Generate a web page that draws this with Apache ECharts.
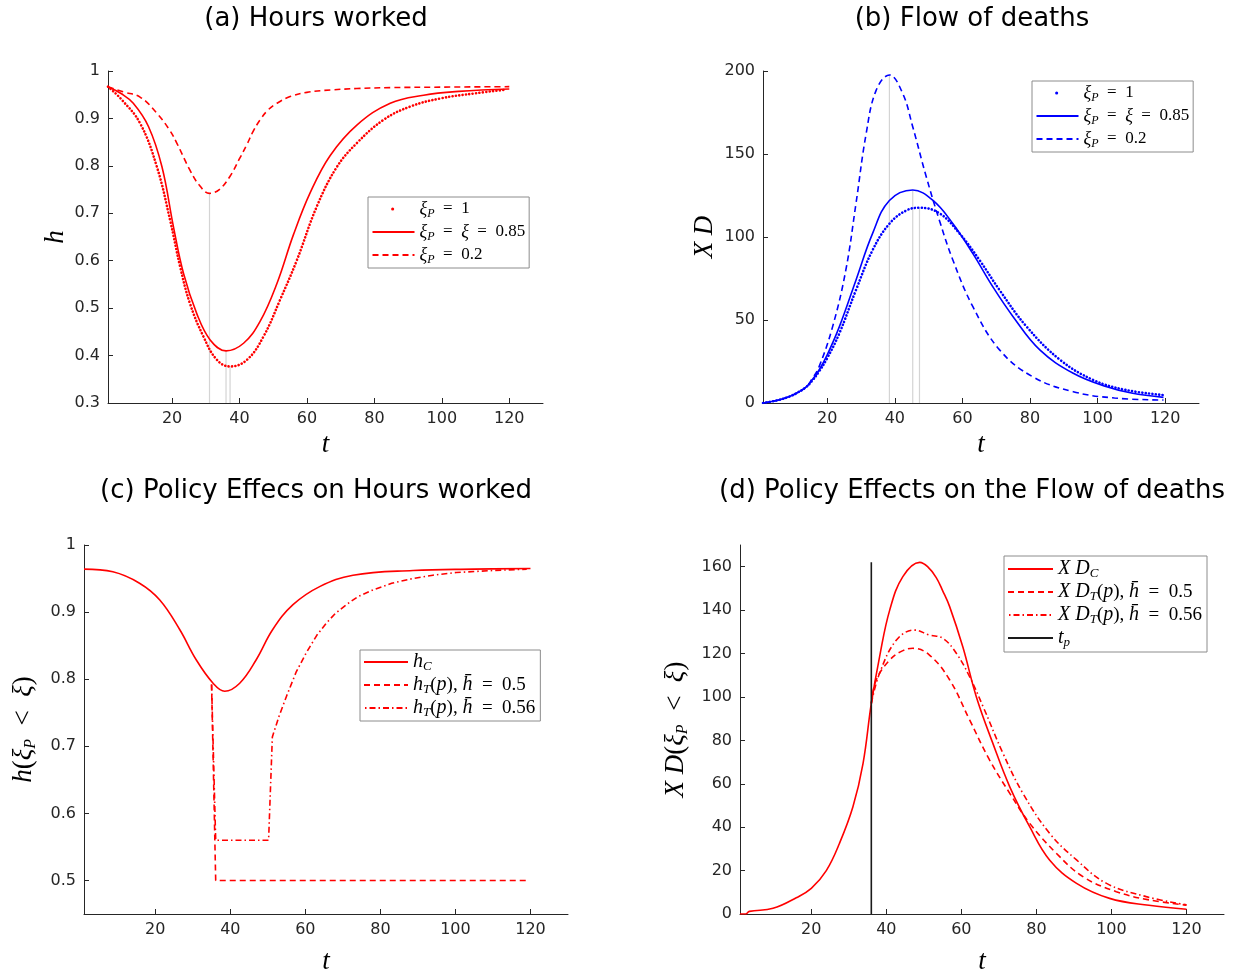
<!DOCTYPE html>
<html><head><meta charset="utf-8">
<script src="https://cdn.jsdelivr.net/npm/echarts@6/dist/echarts.min.js"></script>
<style>html,body{margin:0;padding:0;background:#fff}#c{width:1247px;height:977px}</style>
</head><body><div id="c"></div>
<script>
// ---------- (a) Hours worked ----------
const aDotT = [1, 5, 10.5, 15.5, 19.4, 22.4, 25.3, 29.3, 33.3, 37.2, 42.2, 47.1, 52, 57, 62.9, 68.9, 74.8, 82.7, 90.6, 99.5, 110, 118.3];
const aDotV = [0.967, 0.940, 0.890, 0.798, 0.686, 0.587, 0.510, 0.440, 0.391, 0.377, 0.391, 0.440, 0.517, 0.601, 0.714, 0.798, 0.848, 0.897, 0.925, 0.942, 0.953, 0.960];
const aSolT = [1, 5, 8.5, 13, 17, 20.4, 23.4, 27.3, 31.3, 36, 41.2, 46.1, 51.1, 56, 61, 66.9, 74.8, 84.7, 94.6, 105, 120];
const aSolV = [0.967, 0.952, 0.932, 0.883, 0.798, 0.672, 0.573, 0.489, 0.433, 0.410, 0.426, 0.472, 0.552, 0.655, 0.744, 0.822, 0.886, 0.932, 0.949, 0.957, 0.962];
const aDashT = [1, 5.5, 10.5, 15.5, 19.4, 21.4, 25.3, 28, 31.1, 34, 37.2, 40, 42.2, 44, 46.1, 48.5, 51.1, 55, 60, 67, 74.8, 85, 100, 120];
const aDashV = [0.967, 0.956, 0.945, 0.911, 0.874, 0.848, 0.791, 0.760, 0.742, 0.750, 0.778, 0.815, 0.845, 0.872, 0.897, 0.918, 0.932, 0.946, 0.955, 0.960, 0.963, 0.965, 0.966, 0.967];
const aPeakT = [31.1, 36, 37.2];
const aPeakV = [0.742, 0.410, 0.377];
const aYTicks = [0.3, 0.4, 0.5, 0.6, 0.7, 0.8, 0.9, 1];

// ---------- (b) Flow of deaths ----------
const bDotT = [1, 5, 8.7, 11, 13.7, 15.5, 17.6, 20, 23.6, 28.5, 33.4, 38.4, 43.4, 47.3, 53.2, 59.2, 65.1, 71, 79, 88.9, 98.7, 108, 119.5];
const bDotV = [0, 1.5, 3.8, 6, 9.5, 13.3, 19, 27, 42, 68, 92, 108, 116, 117.6, 114.3, 102, 86, 68, 46, 26, 13.9, 8, 4.8];
const bSolT = [1, 5, 8.7, 11, 13.7, 15.5, 17.6, 20, 23.6, 28.5, 33.4, 38.4, 45.3, 51.3, 57.2, 63.1, 69, 75, 82.9, 92.8, 102.7, 110, 119.5];
const bSolV = [0, 1.5, 3.8, 6, 9.5, 13.8, 19.9, 29, 46, 74, 102, 122, 128.3, 122, 108, 90, 70, 52, 32, 17.9, 9.8, 6, 3.4];
const bDashT = [1, 5, 8.7, 11, 13.7, 15.5, 17.6, 21.6, 25.5, 28.5, 31.5, 34.5, 38.4, 42.3, 45.3, 49.3, 53.2, 57.2, 63.1, 71, 80.8, 92.8, 105, 119.5];
const bDashV = [0, 1.5, 3.8, 6, 9.5, 14.5, 21.9, 46, 80, 120, 162, 188.5, 197.6, 186.6, 166.4, 136.3, 110, 86, 58, 32, 15.8, 6.8, 3, 1.8];
const bPeakT = [38.4, 45.3, 47.3];
const bPeakV = [197.6, 128.3, 117.6];
const bYTicks = [0, 50, 100, 150, 200];

// ---------- (c) Policy effects on hours worked ----------
const cSolT = [1, 8.7, 15.8, 21.2, 26.5, 30.9, 35.4, 38.5, 42.5, 46.9, 51.3, 56.7, 63.8, 72.7, 88.7, 105, 120];
const cSolV = [0.964, 0.960, 0.943, 0.918, 0.874, 0.829, 0.794, 0.782, 0.794, 0.829, 0.874, 0.911, 0.938, 0.955, 0.962, 0.964, 0.965];
const cDashT = [35, 36.1, 119];
const cDashV = [0.792, 0.5, 0.5];
const cDDT = [35, 36.1, 50.2, 51.2, 53, 55, 57.5, 60.2, 63, 65.5, 68, 70.9, 74, 78, 83, 88.7, 94, 100.2, 110, 119];
const cDDV = [0.792, 0.56, 0.56, 0.714, 0.745, 0.775, 0.810, 0.839, 0.865, 0.883, 0.898, 0.911, 0.923, 0.933, 0.943, 0.950, 0.955, 0.959, 0.962, 0.964];
const cYTicks = [0.5, 0.6, 0.7, 0.8, 0.9, 1];

// ---------- (d) Policy effects on the flow of deaths ----------
const dSolT = [1, 2.5, 3.5, 9.8, 16, 20, 24, 27.5, 31.1, 33.8, 36, 38.2, 40.9, 44.4, 48.9, 51, 53.3, 55, 56.9, 60.4, 64, 68.4, 72.9, 78.2, 83.5, 90.7, 99.5, 110, 120];
const dSolV = [0, 0, 1.2, 2.6, 7.5, 11.8, 20, 32.5, 49.4, 69.4, 97, 118.5, 140, 155.4, 162, 160, 155, 149, 141.5, 123, 100, 78.6, 58.6, 40.2, 24.9, 14.1, 7.2, 4, 2.2];
const dDashT = [36, 37.3, 40.9, 44, 47.1, 51.5, 56.9, 62.2, 67.5, 72.9, 78.2, 85.3, 92.4, 101.3, 110, 120];
const dDashV = [97, 107.8, 117, 121, 122.4, 119.3, 107.8, 89.4, 71, 55.6, 41.8, 28, 17.2, 10.3, 6.5, 4.1];
const dDDT = [36, 38.2, 42.7, 47.5, 51.5, 55.1, 58.7, 62.2, 65.8, 71.1, 76.4, 83.5, 90.7, 98.7, 109.3, 120];
const dDDV = [97, 110.9, 126.2, 130.8, 128.5, 127, 120, 109.3, 95.5, 74, 55.6, 37.2, 24.9, 14.1, 8, 4.2];
const tpT = 36;
const tpV = [0, 162];
const dYTicks = [0, 20, 40, 60, 80, 100, 120, 140, 160];

const xTicks = [20, 40, 60, 80, 100, 120];

// ---------- helpers ----------
const zip = (t, v) => t.map((x, i) => [x, v[i]]);
const RED = '#ff0000', BLUE = '#0000ff';
const AX = '#262626';
const SANS = 'DejaVu Sans';
const SERIF = 'Liberation Serif';
const DOT = {type: [0.1, 3.3], width: 2.6, cap: 'round'};
const DASH = {type: [6, 4], width: 1.6};
const DASHDOT = {type: [6, 3, 1.5, 3], width: 1.6};
const SOLID = {type: 'solid', width: 1.6};

function line(name, gi, t, v, color, ls, smooth) {
  return {type: 'line', name, xAxisIndex: gi, yAxisIndex: gi, data: zip(t, v),
    symbol: 'none', smooth: smooth === false ? false : 0.4,
    lineStyle: Object.assign({color}, ls), itemStyle: {color}, z: 3, silent: true};
}
function vline(gi, t, y0, y1, color, w, z) {
  return {type: 'line', xAxisIndex: gi, yAxisIndex: gi, data: [[t, y0], [t, y1]],
    symbol: 'none', lineStyle: {color, width: w}, z, silent: true};
}
const nameRich = {
  i: {fontFamily: SERIF, fontStyle: 'italic', fontSize: 27, color: '#000', lineHeight: 30},
  n: {fontFamily: SERIF, fontSize: 27, color: '#000', lineHeight: 30},
  s: {fontFamily: SERIF, fontStyle: 'italic', fontSize: 16, color: '#000', verticalAlign: 'bottom', lineHeight: 14}
};
function fmt(d) { return v => (+v.toFixed(d)).toString(); }
function xAxis(gi, gap) {
  return {type: 'value', gridIndex: gi, min: 1, max: 130,
    axisLine: {show: true, onZero: false, lineStyle: {color: AX, width: 1}},
    axisTick: {show: true, inside: true, length: 5, customValues: xTicks, lineStyle: {color: AX}},
    axisLabel: {customValues: xTicks, color: AX, fontSize: 16, fontFamily: SANS, margin: 8},
    splitLine: {show: false},
    name: '{i|t}', nameLocation: 'middle', nameGap: gap, nameTextStyle: {rich: nameRich}};
}
function yAxis(gi, min, max, ticks, dec, name, gap) {
  return {type: 'value', gridIndex: gi, min, max,
    axisLine: {show: true, onZero: false, lineStyle: {color: AX, width: 1}},
    axisTick: {show: true, inside: true, length: 5, customValues: ticks, lineStyle: {color: AX}},
    axisLabel: {customValues: ticks, color: AX, fontSize: 16, fontFamily: SANS, margin: 8, formatter: fmt(dec)},
    splitLine: {show: false},
    name, nameLocation: 'middle', nameRotate: 90, nameGap: gap, nameTextStyle: {rich: nameRich}};
}

function legRich(fs) {
  return {
    i: {fontFamily: SERIF, fontStyle: 'italic', fontSize: fs + 1, color: '#000', lineHeight: 22},
    n: {fontFamily: SERIF, fontSize: fs, color: '#000', lineHeight: 22},
    s: {fontFamily: SERIF, fontStyle: 'italic', fontSize: Math.round(fs * 0.68), color: '#000', verticalAlign: 'bottom', lineHeight: 11}
  };
}
const legLabels = {
  a1: '{i|ξ}{s|P}{n|  =  1}', a2: '{i|ξ}{s|P}{n|  =  }{i|ξ}{n|  =  0.85}', a3: '{i|ξ}{s|P}{n|  =  0.2}',
  b1: '{i|ξ}{s|P}{n|  =  1}', b2: '{i|ξ}{s|P}{n|  =  }{i|ξ}{n|  =  0.85}', b3: '{i|ξ}{s|P}{n|  =  0.2}',
  c1: '{i|h}{s|C}', c2: '{i|h}{s|T}{n|(}{i|p}{n|), }{i|h̄}{n|  =  0.5}', c3: '{i|h}{s|T}{n|(}{i|p}{n|), }{i|h̄}{n|  =  0.56}',
  d1: '{i|X D}{s|C}', d2: '{i|X D}{s|T}{n|(}{i|p}{n|), }{i|h̄}{n|  =  0.5}', d3: '{i|X D}{s|T}{n|(}{i|p}{n|), }{i|h̄}{n|  =  0.56}', d4: '{i|t}{s|p}'
};
const dotLegend = {type: [0.1, 1000], dashOffset: 980, width: 3, cap: 'round'};
function legend(names, left, top, w, pad, fs, lh) {
  return {orient: 'vertical', left, top, itemWidth: w, itemHeight: 10, itemGap: 1,
    padding: pad, borderColor: '#8c8c8c', borderWidth: 1, backgroundColor: '#fff',
    itemStyle: {opacity: 0},
    selectedMode: false, data: names, formatter: n => legLabels[n],
    textStyle: {rich: legRich(fs), lineHeight: lh}};
}

const titleStyle = {fontFamily: SANS, fontSize: 26, fontWeight: 'normal', color: '#000'};
const option = {
  animation: false,
  backgroundColor: '#fff',
  title: [
    {text: '(a) Hours worked', left: 316, top: 6, textAlign: 'center', padding: 0, textStyle: titleStyle},
    {text: '(b) Flow of deaths', left: 972, top: 6, textAlign: 'center', padding: 0, textStyle: titleStyle},
    {text: '(c) Policy Effecs on Hours worked', left: 316, top: 478, textAlign: 'center', padding: 0, textStyle: titleStyle},
    {text: '(d) Policy Effects on the Flow of deaths', left: 972, top: 478, textAlign: 'center', padding: 0, textStyle: titleStyle}
  ],
  grid: [
    {left: 108, top: 71, width: 435, height: 332, outerBoundsMode: 'none'},
    {left: 763, top: 71, width: 436, height: 332, outerBoundsMode: 'none'},
    {left: 84, top: 545, width: 484, height: 369, outerBoundsMode: 'none'},
    {left: 740, top: 545, width: 484, height: 369, outerBoundsMode: 'none'}
  ],
  xAxis: [xAxis(0, 27), xAxis(1, 27), xAxis(2, 33), xAxis(3, 33)],
  yAxis: [
    yAxis(0, 0.3, 1, aYTicks, 1, '{i|h}', 37),
    yAxis(1, 0, 200, bYTicks, 0, '{i|X D}', 43),
    yAxis(2, 0.45, 1, cYTicks, 1, '{i|h}{n|(}{i|ξ}{s|P}{n|  <  }{i|ξ}{n|)}', 45),
    yAxis(3, 0, 170, dYTicks, 0, '{i|X D}{n|(}{i|ξ}{s|P}{n|  <  }{i|ξ}{n|)}', 49)
  ],
  legend: [
    legend([{name: 'a1', lineStyle: dotLegend}, 'a2', 'a3'], 368, 197, 42, [1, 4, 2, 3], 17, 21),
    legend([{name: 'b1', lineStyle: dotLegend}, 'b2', 'b3'], 1032, 81, 42, [1, 4, 2, 3], 17, 21),
    legend(['c1', 'c2', 'c3'], 360, 650, 44, [1, 5, 2, 3], 19, 23),
    legend(['d1', 'd2', 'd3', 'd4'], 1004, 556, 45, [2, 5, 3, 3], 19, 23)
  ],
  series: [
    ...aPeakT.map((t, i) => vline(0, t, 0.3, aPeakV[i], '#d4d4d4', 1.2, 1)),
    line('a1', 0, aDotT, aDotV, RED, DOT),
    line('a2', 0, aSolT, aSolV, RED, SOLID),
    line('a3', 0, aDashT, aDashV, RED, DASH),
    ...bPeakT.map((t, i) => vline(1, t, 0, bPeakV[i], '#d4d4d4', 1.2, 1)),
    line('b1', 1, bDotT, bDotV, BLUE, DOT),
    line('b2', 1, bSolT, bSolV, BLUE, SOLID),
    line('b3', 1, bDashT, bDashV, BLUE, DASH),
    line('c1', 2, cSolT, cSolV, RED, SOLID),
    line('c2', 2, cDashT, cDashV, RED, DASH, false),
    line('c3', 2, cDDT, cDDV, RED, DASHDOT, false),
    line('d1', 3, dSolT, dSolV, RED, SOLID),
    line('d2', 3, dDashT, dDashV, RED, DASH),
    line('d3', 3, dDDT, dDDV, RED, DASHDOT),
    Object.assign(vline(3, tpT, tpV[0], tpV[1], '#1a1a1a', 1.6, 4), {name: 'd4', itemStyle: {color: '#1a1a1a'}})
  ]
};
const chart = echarts.init(document.getElementById('c'), null, {renderer: 'canvas'});
chart.setOption(option);
</script></body></html>
